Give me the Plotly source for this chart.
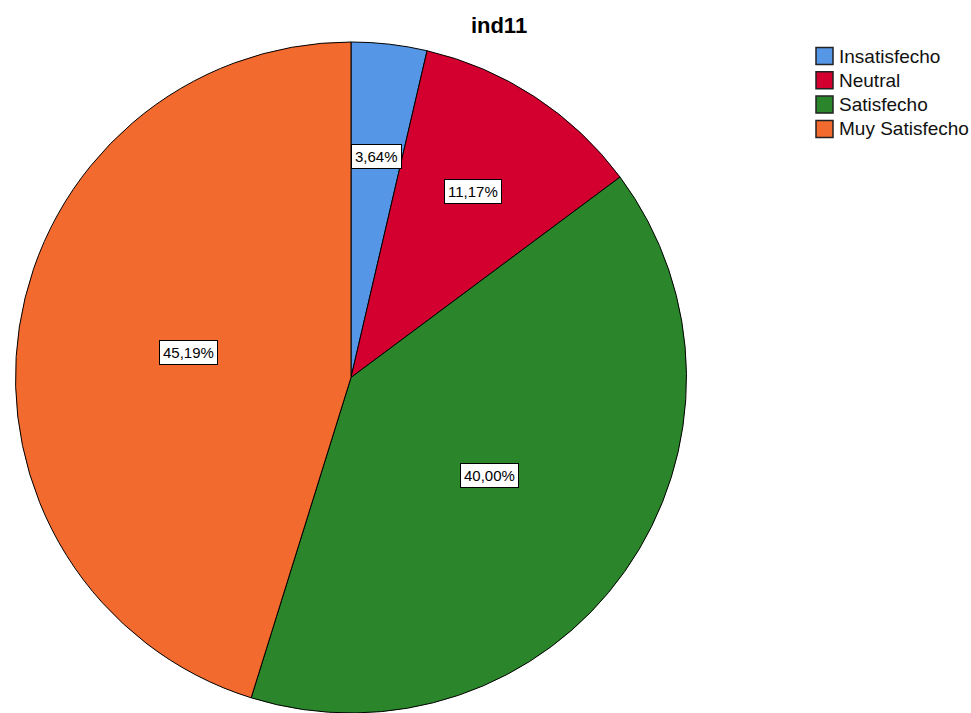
import math
import plotly.graph_objects as go

# Satisfaction shares for indicator ind11
categories = ["Insatisfecho", "Neutral", "Satisfecho", "Muy Satisfecho"]
percentages = [3.64, 11.17, 40.00, 45.19]
colors = ["#5596E6", "#D3002F", "#2B852A", "#F36A2E"]
# how far out (fraction of radius) each value box sits
label_radius = [0.663, 0.662, 0.505, 0.49]

W, H = 971, 713
dom_x = [15 / W, 687 / W]
dom_y = [0.0, 1 - 42 / H]
FONT = "Liberation Sans, Arial, sans-serif"

fig = go.Figure(go.Pie(
    labels=categories,
    values=percentages,
    sort=False,
    direction="clockwise",
    rotation=0,
    marker=dict(colors=colors, line=dict(color="black", width=1)),
    textinfo="none",
    hoverinfo="label+percent",
    domain=dict(x=dom_x, y=dom_y),
    showlegend=False,
))

# value boxes placed at each slice's mid-angle
r_px = min(W * (dom_x[1] - dom_x[0]), H * (dom_y[1] - dom_y[0])) / 2
cx = W * (dom_x[0] + dom_x[1]) / 2
cy = H * (1 - (dom_y[0] + dom_y[1]) / 2)
total = sum(percentages)
cum = 0.0
for val, rf in zip(percentages, label_radius):
    mid = (cum + val / 2) / total * 2 * math.pi
    cum += val
    px = cx + rf * r_px * math.sin(mid)
    py = cy - rf * r_px * math.cos(mid)
    fig.add_annotation(
        x=px / W, y=1 - py / H, xref="paper", yref="paper",
        xanchor="center", yanchor="middle",
        text=f"{val:.2f}%".replace(".", ","),
        showarrow=False,
        font=dict(family=FONT, size=15, color="black"),
        bgcolor="white", bordercolor="black", borderwidth=1, borderpad=3,
    )

# legend: outlined colour squares with category names
leg_x0, leg_top, row_h, sq = 816, 56, 24.3, 17
for i, (name, col) in enumerate(zip(categories, colors)):
    yc = leg_top + i * row_h
    fig.add_shape(
        type="rect", xref="paper", yref="paper",
        x0=leg_x0 / W, x1=(leg_x0 + sq) / W,
        y0=1 - (yc - sq / 2) / H, y1=1 - (yc + sq / 2) / H,
        fillcolor=col, line=dict(color="#222222", width=1.5),
    )
    fig.add_annotation(
        x=(leg_x0 + sq + 4) / W, y=1 - yc / H, xref="paper", yref="paper",
        xanchor="left", yanchor="middle", showarrow=False,
        text=name, font=dict(family=FONT, size=19, color="#111111"),
    )

fig.update_layout(
    width=W, height=H,
    margin=dict(l=0, r=0, t=0, b=0),
    paper_bgcolor="white",
    plot_bgcolor="white",
    showlegend=False,
    title=dict(text="<b>ind11</b>", x=499 / W, xanchor="center",
               y=1 - 25 / H, yanchor="middle",
               font=dict(family=FONT, size=22, color="black")),
)

fig.write_html("out.html")
